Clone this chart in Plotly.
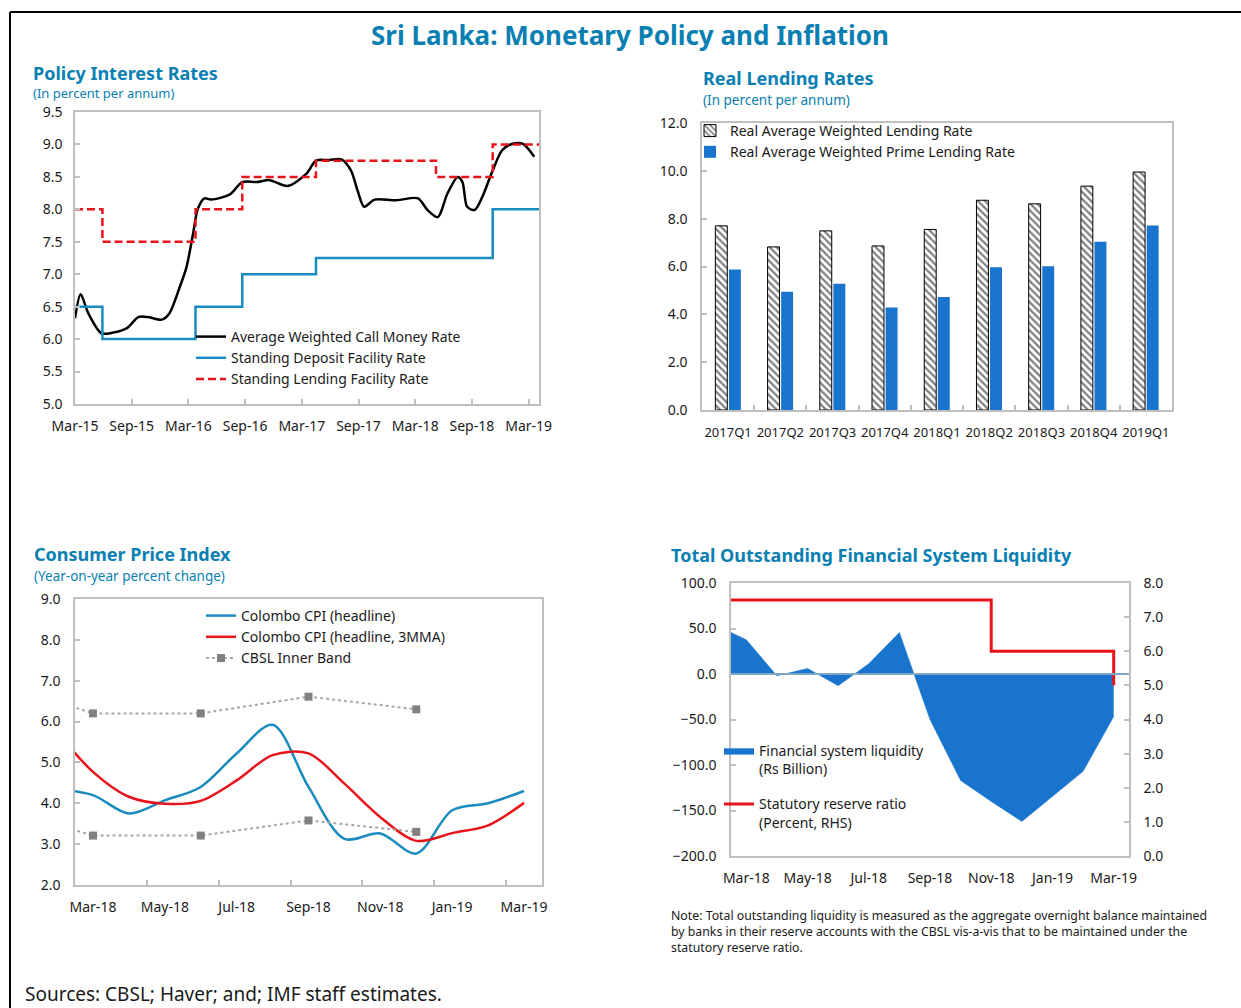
import plotly.graph_objects as go

W, H = 1241, 1008
def px(x):
    return x / W
def py(y):
    return 1 - y / H

FONT = "Noto Sans"
TITLE_BLUE = "#0A80B2"
AX_GRAY = "#BFBFBF"
TXT = "#1a1a1a"

# ---------------- Panel 1: Policy interest rates (months since Mar-15) ----------------
rate_tick_months = [0, 6, 12, 18, 24, 30, 36, 42, 48]
rate_tick_labels = ["Mar-15", "Sep-15", "Mar-16", "Sep-16", "Mar-17", "Sep-17", "Mar-18", "Sep-18", "Mar-19"]

call_months = [0, 0.6, 1.4, 2.8, 4, 5.5, 6.7, 7.7, 9.2, 10, 11.1, 11.8, 12.5, 13, 13.7, 14.4, 16.4, 17.7,
               19.2, 20.6, 22.5, 24.5, 25.5, 26.9, 28.2, 29.2, 29.9, 30.6, 31.7, 34, 36.3, 37.3, 38.4,
               39.4, 40.5, 41, 41.5, 42.3, 43.1, 44.2, 45.2, 46.3, 47.4, 48.6]
call_rate = [6.32, 6.69, 6.40, 6.09, 6.10, 6.17, 6.34, 6.34, 6.30, 6.40, 6.81, 7.11, 7.63, 8.01, 8.17, 8.15,
             8.23, 8.42, 8.42, 8.45, 8.36, 8.55, 8.75, 8.76, 8.77, 8.60, 8.29, 8.04, 8.15, 8.14, 8.17, 7.99,
             7.88, 8.24, 8.50, 8.42, 8.04, 7.99, 8.19, 8.60, 8.91, 9.01, 9.01, 8.81]

step_months = [0, 2.9, 12.75, 17.7, 25.5, 38.2, 44.2, 49.1]
sdfr = [6.5, 6.0, 6.5, 7.0, 7.25, 7.25, 8.0, 8.0]
slfr = [8.0, 7.5, 8.0, 8.5, 8.75, 8.5, 9.0, 9.0]

# ---------------- Panel 2: Real lending rates ----------------
quarters = ["2017Q1", "2017Q2", "2017Q3", "2017Q4", "2018Q1", "2018Q2", "2018Q3", "2018Q4", "2019Q1"]
real_awlr = [7.70, 6.82, 7.49, 6.86, 7.55, 8.77, 8.62, 9.36, 9.95]
real_awplr = [5.87, 4.94, 5.28, 4.29, 4.72, 5.97, 6.01, 7.04, 7.71]

# ---------------- Panel 3: CPI (index 0 = Mar-18) ----------------
all_months = ["Dec-17", "Jan-18", "Feb-18", "Mar-18", "Apr-18", "May-18", "Jun-18", "Jul-18", "Aug-18",
              "Sep-18", "Oct-18", "Nov-18", "Dec-18", "Jan-19", "Feb-19", "Mar-19"]
def midx(m):
    return all_months.index(m) - 3

cpi_months = ["Feb-18", "Mar-18", "Apr-18", "May-18", "Jun-18", "Jul-18", "Aug-18", "Sep-18", "Oct-18",
              "Nov-18", "Dec-18", "Jan-19", "Feb-19", "Mar-19"]
cpi_headline = [4.35, 4.20, 3.75, 4.07, 4.40, 5.22, 5.92, 4.40, 3.13, 3.26, 2.77, 3.83, 4.00, 4.30]
cpi_3mma = [5.75, 4.77, 4.16, 3.99, 4.06, 4.56, 5.18, 5.22, 4.48, 3.66, 3.08, 3.27, 3.46, 4.01]
band_months = ["Dec-17", "Mar-18", "Jun-18", "Sep-18", "Dec-18"]
band_upper = [7.07, 6.20, 6.20, 6.61, 6.30]
band_lower = [3.99, 3.21, 3.21, 3.58, 3.30]
cat_tick_months = ["Mar-18", "May-18", "Jul-18", "Sep-18", "Nov-18", "Jan-19", "Mar-19"]

# ---------------- Panel 4: Liquidity ----------------
liq_months = cpi_months
liquidity = [53.7, 37.7, -2.0, 6.1, -12.9, 11.3, 45.7, -50.0, -117.0, -140.0, -162.0, -135.0, -107.0, -46.7]
srr = [7.5, 7.5, 7.5, 7.5, 7.5, 7.5, 7.5, 7.5, 7.5, 6.0, 6.0, 6.0, 6.0, 5.0]

fig = go.Figure()

# Panel 1 traces
fig.add_trace(go.Scatter(x=call_months, y=call_rate, mode="lines", line=dict(color="black", width=2.5, shape="spline", smoothing=0.8),
                         name="Average Weighted Call Money Rate", xaxis="x", yaxis="y", legend="legend"))
fig.add_trace(go.Scatter(x=step_months, y=sdfr, mode="lines", line=dict(color="#1A8BBE", width=2.5, shape="hv"),
                         name="Standing Deposit Facility Rate", xaxis="x", yaxis="y", legend="legend"))
fig.add_trace(go.Scatter(x=step_months, y=slfr, mode="lines", line=dict(color="#E8141B", width=2.5, shape="hv", dash="8px,4px"),
                         name="Standing Lending Facility Rate", xaxis="x", yaxis="y", legend="legend"))

# Panel 2 traces
fig.add_trace(go.Bar(x=quarters, y=real_awlr, name="Real Average Weighted Lending Rate",
                     marker=dict(color="white", line=dict(color="black", width=1),
                                 pattern=dict(shape="\\", fgcolor="black", bgcolor="white", size=5, solidity=0.45)),
                     xaxis="x2", yaxis="y2", legend="legend2"))
fig.add_trace(go.Bar(x=quarters, y=real_awplr, name="Real Average Weighted Prime Lending Rate",
                     marker=dict(color="#1874CD", line=dict(width=0)),
                     xaxis="x2", yaxis="y2", legend="legend2"))

# Panel 3 traces
cpi_x = [midx(m) for m in cpi_months]
band_x = [midx(m) for m in band_months]
fig.add_trace(go.Scatter(x=cpi_x, y=cpi_headline, mode="lines", line=dict(color="#1A8BBE", width=2.5, shape="spline", smoothing=0.9),
                         name="Colombo CPI (headline)", xaxis="x3", yaxis="y3", legend="legend3"))
fig.add_trace(go.Scatter(x=cpi_x, y=cpi_3mma, mode="lines", line=dict(color="#E8141B", width=2.5, shape="spline", smoothing=0.9),
                         name="Colombo CPI (headline, 3MMA)", xaxis="x3", yaxis="y3", legend="legend3"))
fig.add_trace(go.Scatter(x=band_x, y=band_upper, mode="lines+markers", line=dict(color="#A6A6A6", width=2, dash="dot"),
                         marker=dict(symbol="square", size=8, color="#808080"),
                         name="CBSL Inner Band", xaxis="x3", yaxis="y3", legend="legend3", legendgroup="band"))
fig.add_trace(go.Scatter(x=band_x, y=band_lower, mode="lines+markers", line=dict(color="#A6A6A6", width=2, dash="dot"),
                         marker=dict(symbol="square", size=8, color="#808080"),
                         name="CBSL Inner Band", showlegend=False, xaxis="x3", yaxis="y3", legend="legend3", legendgroup="band"))

# Panel 4 traces
liq_x = [midx(m) for m in liq_months]
fig.add_trace(go.Scatter(x=liq_x, y=liquidity, mode="lines", fill="tozeroy", fillcolor="#1874CD",
                         line=dict(color="#1874CD", width=0.5),
                         name="Financial system liquidity<br>(Rs Billion)", xaxis="x4", yaxis="y4",
                         legend="legend4", legendgroup="liq"))
fig.add_trace(go.Scatter(x=liq_x, y=srr, mode="lines", line=dict(color="#E8141B", width=3, shape="hv"),
                         name="Statutory reserve ratio<br>(Percent, RHS)", xaxis="x4", yaxis="y5",
                         legend="legend4", legendgroup="srr"))

FS = 14
tickfont = dict(family=FONT, size=FS, color=TXT)
axis_common = dict(showline=True, mirror=True, linecolor=AX_GRAY, linewidth=1.5, showgrid=False, zeroline=False,
                   tickfont=tickfont, ticks="inside", ticklen=5, tickcolor=AX_GRAY, tickwidth=1.5,
                   automargin=False)

# domains
d1x = [px(75), px(539)]; d1y = [py(404), py(112)]
d2x = [px(702), px(1172)]; d2y = [py(410), py(123)]
d3x = [px(75), px(542)]; d3y = [py(885), py(599)]
d4x = [px(731), px(1129)]; d4y = [py(856), py(583)]

cat_tick_idx = [midx(m) for m in cat_tick_months]
boundaries = [i + 1.5 for i in range(0, 12, 2)]

legfont = dict(family=FONT, size=FS, color=TXT)
fig.update_layout(
    width=W, height=H, margin=dict(l=0, r=0, t=0, b=0, autoexpand=False),
    paper_bgcolor="white", plot_bgcolor="white",
    font=dict(family=FONT, size=FS, color=TXT),
    bargap=0.48, bargroupgap=0.12,
    xaxis=dict(axis_common, domain=d1x, anchor="y", range=[0, 49.1], tickvals=rate_tick_months,
               ticktext=rate_tick_labels, ticklabelstandoff=8),
    yaxis=dict(axis_common, domain=d1y, anchor="x", range=[5, 9.5], dtick=0.5, tickformat=".1f", ticklabelstandoff=8),
    xaxis2=dict(axis_common, domain=d2x, anchor="y2", type="category", tickson="boundaries", tickangle=0,
                ticklabelstandoff=10, tickfont=dict(family=FONT, size=13, color=TXT)),
    yaxis2=dict(axis_common, domain=d2y, anchor="x2", range=[0, 12], dtick=2, tickformat=".1f", ticklabelstandoff=10),
    xaxis3=dict(axis_common, domain=d3x, anchor="y3", range=[-0.5, 12.5], tickvals=cat_tick_idx,
                ticktext=cat_tick_months, ticks="", ticklabelstandoff=8,
                minor=dict(tickvals=boundaries, ticks="inside", ticklen=5, tickcolor=AX_GRAY, tickwidth=1.5)),
    yaxis3=dict(axis_common, domain=d3y, anchor="x3", range=[2, 9], dtick=1, tickformat=".1f", ticklabelstandoff=10),
    xaxis4=dict(axis_common, domain=d4x, anchor="y4", range=[-0.5, 12.5], tickvals=cat_tick_idx,
                ticktext=cat_tick_months, ticks="", ticklabelstandoff=8),
    xaxis5=dict(overlaying="x4", anchor="free", position=d4y[0] + (200 / 300) * (d4y[1] - d4y[0]),
                range=[-0.5, 12.5], tickvals=boundaries, showticklabels=False, ticks="inside", ticklen=5,
                tickcolor=AX_GRAY, tickwidth=1.5, showline=False, showgrid=False, zeroline=False),
    yaxis4=dict(axis_common, domain=d4y, anchor="x4", range=[-200, 100], dtick=50, tickformat=".1f",
                mirror=False, ticklabelstandoff=10),
    yaxis5=dict(axis_common, overlaying="y4", side="right", anchor="x4", range=[0, 8], dtick=1, tickformat=".1f",
                mirror=False, ticklabelstandoff=10),
    legend=dict(x=px(191), y=py(321), xanchor="left", yanchor="top", bgcolor="rgba(0,0,0,0)",
                font=legfont, tracegroupgap=0, itemwidth=30),
    legend2=dict(x=px(690), y=py(115), xanchor="left", yanchor="top", bgcolor="rgba(0,0,0,0)",
                 font=legfont, tracegroupgap=0),
    legend3=dict(x=px(201), y=py(600), xanchor="left", yanchor="top", bgcolor="rgba(0,0,0,0)",
                 font=legfont, tracegroupgap=0),
    legend4=dict(x=px(719), y=py(735), xanchor="left", yanchor="top", bgcolor="rgba(0,0,0,0)",
                 font=legfont, tracegroupgap=14, valign="top"),
)

# zero reference line in liquidity chart
fig.add_shape(type="line", xref="x4 domain", yref="y4", x0=0, x1=1, y0=0, y1=0,
              line=dict(color="#7FA7C4", width=2), layer="above")

# outer frame
fig.add_shape(type="line", xref="paper", yref="paper", x0=px(10), x1=1, y0=py(12), y1=py(12), line=dict(color="black", width=2))
fig.add_shape(type="line", xref="paper", yref="paper", x0=px(10), x1=px(10), y0=py(12), y1=0, line=dict(color="black", width=2))

def ann(text, x, y, size, bold=False, color=TITLE_BLUE, xanchor="left", align="left"):
    fig.add_annotation(text=("<b>%s</b>" % text) if bold else text, x=px(x), y=py(y), xref="paper", yref="paper",
                       xanchor=xanchor, yanchor="middle", showarrow=False, align=align,
                       font=dict(family=FONT, size=size, color=color))

ann("Sri Lanka: Monetary Policy and Inflation", 630, 35, 26, bold=True, xanchor="center")
ann("Policy Interest Rates", 31, 73, 18, bold=True)
ann("(In percent per annum)", 31, 93, 13)
ann("Real Lending Rates", 701, 78, 18, bold=True)
ann("(In percent per annum)", 701, 100, 13.5)
ann("Consumer Price Index", 32, 554, 18, bold=True)
ann("(Year-on-year percent change)", 32, 576, 13.5)
ann("Total Outstanding Financial System Liquidity", 669, 555, 18, bold=True)
ann("Note: Total outstanding liquidity is measured as the aggregate overnight balance maintained<br>"
    "by banks in their reserve accounts with the CBSL vis-a-vis that to be maintained under the<br>"
    "statutory reserve ratio.", 669, 931, 12.3, color=TXT)
ann("Sources: CBSL; Haver; and; IMF staff estimates.", 23, 994, 19, color=TXT)

fig.write_html("out.html", config={"displayModeBar": False}, post_script="document.body.style.margin='0';")
